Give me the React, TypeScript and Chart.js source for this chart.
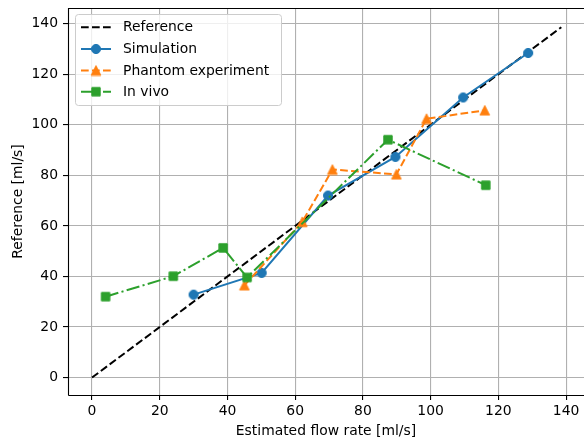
import React, { useEffect, useRef } from 'react';
import { Chart, registerables } from 'chart.js';

Chart.register(...registerables);

const referenceX = [0, 138.6];
const referenceY = [0, 138.6];
const simulationX = [30.0, 50.1, 69.7, 89.6, 109.6, 128.8];
const simulationY = [32.8, 41.4, 72.0, 87.3, 110.8, 128.4];
const phantomX = [45.0, 62.1, 71.0, 89.9, 98.8, 116.0];
const phantomY = [36.5, 61.6, 82.3, 80.4, 102.4, 105.7];
const invivoX = [4.0, 24.0, 38.7, 45.8, 87.4, 116.3];
const invivoY = [32.0, 40.1, 51.3, 39.6, 94.1, 76.1];
const xTicks = [0, 20, 40, 60, 80, 100, 120, 140];
const yTicks = [0, 20, 40, 60, 80, 100, 120, 140];
const legendLabels = ['Reference', 'Simulation', 'Phantom experiment', 'In vivo'];

const BLUE = '#1f77b4';
const ORANGE = '#ff7f0e';
const GREEN = '#2ca02c';
const FONT = 'DejaVu Sans';
const FS = 13.9;

function makeMarker(kind: string, color: string): HTMLCanvasElement {
  const c = document.createElement('canvas');
  const s = 12;
  c.width = s;
  c.height = s;
  const ctx = c.getContext('2d')!;
  ctx.fillStyle = color;
  ctx.strokeStyle = color;
  ctx.lineWidth = 1;
  const m = s / 2;
  ctx.beginPath();
  if (kind === 'circle') {
    ctx.arc(m, m, 4.6, 0, Math.PI * 2);
  } else if (kind === 'square') {
    ctx.rect(m - 4.2, m - 4.2, 8.4, 8.4);
  } else {
    ctx.moveTo(m, m - 4.8);
    ctx.lineTo(m + 4.8, m + 4.8);
    ctx.lineTo(m - 4.8, m + 4.8);
    ctx.closePath();
  }
  ctx.fill();
  ctx.stroke();
  return c;
}

const zip = (xs: number[], ys: number[]) => xs.map((x, i) => ({ x, y: ys[i] }));

export default function App() {
  const ref = useRef<HTMLCanvasElement | null>(null);

  useEffect(() => {
    if (!ref.current) return;
    const circle = makeMarker('circle', BLUE);
    const tri = makeMarker('triangle', ORANGE);
    const square = makeMarker('square', GREEN);

    const legendItems = [
      { color: '#000', dash: [7.7, 3.3], marker: null as HTMLCanvasElement | null },
      { color: BLUE, dash: [] as number[], marker: circle },
      { color: ORANGE, dash: [7.7, 3.3], marker: tri },
      { color: GREEN, dash: [13.3, 3.3, 2.1, 3.3], marker: square },
    ];

    const framePlugin = {
      id: 'frameLegend',
      afterDatasetsDraw(chart: any) {
        const ctx = chart.ctx as CanvasRenderingContext2D;
        const a = chart.chartArea;
        ctx.save();
        ctx.strokeStyle = '#000';
        ctx.lineWidth = 1.1;
        ctx.beginPath();
        ctx.moveTo(Math.round(a.left) + 0.5, Math.round(a.bottom) + 0.5);
        ctx.lineTo(Math.round(a.left) + 0.5, Math.round(a.top) + 0.5);
        ctx.lineTo(a.right + 2, Math.round(a.top) + 0.5);
        ctx.moveTo(Math.round(a.left) + 0.5, Math.round(a.bottom) + 0.5);
        ctx.lineTo(a.right + 2, Math.round(a.bottom) + 0.5);
        ctx.stroke();

        // legend box
        const bx = 75.5, by = 14.5, bw = 206, bh = 91, r = 3;
        ctx.beginPath();
        ctx.moveTo(bx + r, by);
        ctx.lineTo(bx + bw - r, by);
        ctx.quadraticCurveTo(bx + bw, by, bx + bw, by + r);
        ctx.lineTo(bx + bw, by + bh - r);
        ctx.quadraticCurveTo(bx + bw, by + bh, bx + bw - r, by + bh);
        ctx.lineTo(bx + r, by + bh);
        ctx.quadraticCurveTo(bx, by + bh, bx, by + bh - r);
        ctx.lineTo(bx, by + r);
        ctx.quadraticCurveTo(bx, by, bx + r, by);
        ctx.closePath();
        ctx.fillStyle = 'rgba(255,255,255,0.8)';
        ctx.fill();
        ctx.strokeStyle = '#cccccc';
        ctx.lineWidth = 1;
        ctx.stroke();

        const rows = [27.3, 49, 70.5, 91.7];
        ctx.font = `${FS}px "${FONT}"`;
        ctx.textBaseline = 'middle';
        ctx.textAlign = 'left';
        legendItems.forEach((it, i) => {
          const y = rows[i];
          ctx.beginPath();
          ctx.setLineDash(it.dash);
          ctx.strokeStyle = it.color;
          ctx.lineWidth = 2;
          ctx.moveTo(81, y);
          ctx.lineTo(111, y);
          ctx.stroke();
          ctx.setLineDash([]);
          if (it.marker) {
            ctx.drawImage(it.marker, 96 - it.marker.width / 2, y - it.marker.height / 2);
          }
          ctx.fillStyle = '#000';
          ctx.fillText(legendLabels[i], 123, y + 0.5);
        });
        ctx.restore();
      },
    };

    const chart = new Chart(ref.current, {
      type: 'scatter',
      data: {
        datasets: [
          {
            label: legendLabels[0],
            data: zip(referenceX, referenceY),
            showLine: true,
            borderColor: '#000',
            borderWidth: 2,
            borderDash: [7.7, 3.3],
            pointRadius: 0,
            order: 4,
          },
          {
            label: legendLabels[1],
            data: zip(simulationX, simulationY),
            showLine: true,
            borderColor: BLUE,
            backgroundColor: BLUE,
            borderWidth: 2,
            pointStyle: circle,
            pointRadius: 5,
            order: 3,
          },
          {
            label: legendLabels[2],
            data: zip(phantomX, phantomY),
            showLine: true,
            borderColor: ORANGE,
            backgroundColor: ORANGE,
            borderWidth: 2,
            borderDash: [7.7, 3.3],
            pointStyle: tri,
            pointRadius: 5,
            order: 2,
          },
          {
            label: legendLabels[3],
            data: zip(invivoX, invivoY),
            showLine: true,
            borderColor: GREEN,
            backgroundColor: GREEN,
            borderWidth: 2,
            borderDash: [13.3, 3.3, 2.1, 3.3],
            pointStyle: square,
            pointRadius: 5,
            order: 1,
          },
        ],
      },
      options: {
        animation: false,
        responsive: false,
        events: [],
        layout: { autoPadding: false, padding: { top: 8, right: 0, left: 0, bottom: 0 } },
        plugins: { legend: { display: false }, tooltip: { enabled: false } },
        scales: {
          x: {
            type: 'linear',
            min: -7.1,
            max: 145.3,
            afterBuildTicks: (axis: any) => {
              axis.ticks = xTicks.map((v) => ({ value: v }));
            },
            afterFit: (axis: any) => {
              axis.height = 45;
              axis.paddingLeft = 0;
              axis.paddingRight = 0;
              axis.paddingTop = 0;
              axis.paddingBottom = 0;
            },
            grid: { color: '#b0b0b0', lineWidth: 1.1, tickColor: '#000', tickLength: 5, tickWidth: 1.1 },
            border: { display: false },
            ticks: {
              autoSkip: false,
              maxRotation: 0,
              padding: 3,
              color: '#000',
              font: { family: FONT, size: FS },
              callback: (v: any) => String(v),
            },
            title: {
              display: true,
              text: 'Estimated flow rate [ml/s]',
              color: '#000',
              font: { family: FONT, size: FS },
              padding: { top: 0, bottom: 0 },
            },
          },
          y: {
            type: 'linear',
            min: -6.9,
            max: 146.2,
            afterBuildTicks: (axis: any) => {
              axis.ticks = yTicks.map((v) => ({ value: v }));
            },
            afterFit: (axis: any) => {
              axis.width = 68;
              axis.paddingLeft = 0;
              axis.paddingRight = 0;
              axis.paddingTop = 0;
              axis.paddingBottom = 0;
            },
            grid: { color: '#b0b0b0', lineWidth: 1.1, tickColor: '#000', tickLength: 5, tickWidth: 1.1 },
            border: { display: false },
            ticks: {
              autoSkip: false,
              padding: 5,
              color: '#000',
              font: { family: FONT, size: FS },
              callback: (v: any) => String(v),
            },
            title: {
              display: true,
              text: 'Reference [ml/s]',
              color: '#000',
              font: { family: FONT, size: FS },
              padding: { top: 10, bottom: 0 },
            },
          },
        },
      },
      plugins: [framePlugin],
    } as any);

    return () => chart.destroy();
  }, []);

  return (
    <div style={{ position: 'absolute', left: 0, top: 0, width: 584, height: 440, background: '#fff' }}>
      <canvas ref={ref} width={584} height={440} style={{ display: 'block', width: 584, height: 440 }} />
    </div>
  );
}
